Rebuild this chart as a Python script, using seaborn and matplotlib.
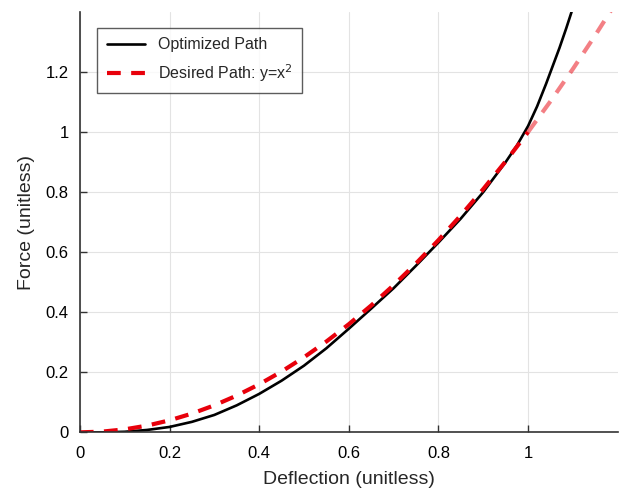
import numpy as np
import pandas as pd
import matplotlib
matplotlib.use("Agg")
import matplotlib.pyplot as plt
import seaborn as sns

# optimized path
opt_x = [0, 0.05, 0.1, 0.15, 0.2, 0.25, 0.3, 0.35, 0.4, 0.45, 0.5, 0.55, 0.6,
         0.65, 0.7, 0.75, 0.8, 0.85, 0.9, 0.95, 0.975, 1.0, 1.02, 1.04, 1.055,
         1.07, 1.085, 1.097]
opt_y = [0, 0.0, 0.002, 0.008, 0.018, 0.035, 0.058, 0.09, 0.128, 0.172, 0.222, 0.28, 0.345,
         0.412, 0.48, 0.555, 0.632, 0.712, 0.8, 0.9, 0.955, 1.02, 1.085, 1.16, 1.22,
         1.28, 1.345, 1.40]

# desired path (y = x^2), inside the fitted range
des_x = [0, 0.05, 0.1, 0.15, 0.2, 0.25, 0.3, 0.35, 0.4, 0.45, 0.5, 0.55, 0.6,
         0.65, 0.7, 0.75, 0.8, 0.85, 0.9, 0.95, 1.0]
des_y = [0, 0.0025, 0.01, 0.0225, 0.04, 0.0625, 0.09, 0.1225, 0.16, 0.2025, 0.25,
         0.3025, 0.36, 0.4225, 0.49, 0.5625, 0.64, 0.7225, 0.81, 0.9025, 1.0]
# desired path beyond x = 1 (drawn faded)
ext_x = [1.0, 1.05, 1.1, 1.15, 1.2]
ext_y = [1.0, 1.1025, 1.21, 1.3225, 1.44]

sns.set_style("ticks")
plt.rcParams['font.family'] = ['Liberation Sans', 'DejaVu Sans']

fig = plt.figure(figsize=(6.19, 4.93), dpi=100)
ax = fig.add_axes([0.129, 0.123, 0.869, 0.853])

red = "#e8000b"
sns.lineplot(x=opt_x, y=opt_y, ax=ax, color="black", linewidth=1.9,
             label="Optimized Path", sort=False)
sns.lineplot(x=des_x, y=des_y, ax=ax, color=red, linewidth=3,
             linestyle=(0, (3.3, 2.5)), label="Desired Path: y=x$^2$", sort=False)
sns.lineplot(x=ext_x, y=ext_y, ax=ax, color=red, linewidth=3, alpha=0.5,
             linestyle=(0, (3.3, 2.5)), sort=False, legend=False)

ax.set_xlim(0, 1.2)
ax.set_ylim(0, 1.4)
ax.set_xticks([0, 0.2, 0.4, 0.6, 0.8, 1])
ax.set_xticklabels(["0", "0.2", "0.4", "0.6", "0.8", "1"])
ax.set_yticks([0, 0.2, 0.4, 0.6, 0.8, 1, 1.2])
ax.set_yticklabels(["0", "0.2", "0.4", "0.6", "0.8", "1", "1.2"])
ax.grid(True, color="#e3e3e3", linewidth=0.8)
ax.set_axisbelow(True)
ax.tick_params(direction="in", length=5, width=1, colors="#333333",
               labelsize=12, labelcolor="black")
ax.tick_params(axis="x", pad=10)
ax.tick_params(axis="y", pad=8)
for s in ["top", "right"]:
    ax.spines[s].set_visible(False)
for s in ["left", "bottom"]:
    ax.spines[s].set_color("#333333")
    ax.spines[s].set_linewidth(1.2)

ax.set_xlabel("Deflection (unitless)", fontsize=14, labelpad=7)
ax.set_ylabel("Force (unitless)", fontsize=14, labelpad=8)

leg = ax.legend(loc="upper left", bbox_to_anchor=(0.032, 0.962), borderaxespad=0,
                fontsize=11.5, frameon=True, fancybox=False, edgecolor="#333333",
                handlelength=2.4, borderpad=0.6, labelspacing=0.6)
leg.get_frame().set_linewidth(1)

fig.savefig("out.png", dpi=100)
